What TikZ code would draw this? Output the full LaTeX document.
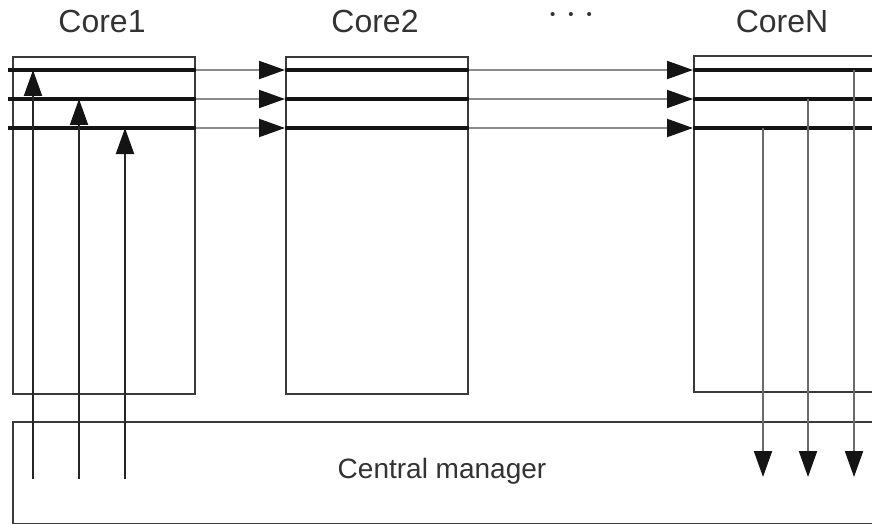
\documentclass[tikz,border=0pt]{standalone}
\usepackage{fontspec}
\setmainfont{Liberation Sans}
\usetikzlibrary{arrows.meta}
\definecolor{boxgray}{HTML}{3A3A3A}
\definecolor{linkgray}{HTML}{8C8C8C}
\definecolor{dropgray}{HTML}{6A6A6A}
\definecolor{txtgray}{HTML}{333333}
\begin{document}
\begin{tikzpicture}[x=1pt,y=-1pt,
  box/.style={draw=boxgray, line width=1.6pt, inner sep=0pt, anchor=north west},
  bus/.style={draw=black!92, line width=4pt},
  tip/.style={-{Triangle[length=26pt,width=18pt,color=black!92]}},
  link/.style={draw=linkgray, line width=2pt, tip},
  feed/.style={draw=black!85, line width=2pt, tip},
  drop/.style={draw=dropgray, line width=2pt, tip},
  title/.style={font=\fontsize{32}{38}\selectfont, text=txtgray, anchor=base},
  caption/.style={font=\fontsize{28}{34}\selectfont, text=txtgray, anchor=base}]
\useasboundingbox (0,0) rectangle (872,524);
\clip (0,0) rectangle (872,524);
\fill[white] (0,0) rectangle (872,524);

% core and manager boxes
\node[box, minimum width=182pt, minimum height=337pt] (c1) at (12,56) {};
\node[box, minimum width=182pt, minimum height=337pt] (c2) at (285,56) {};
\node[box, minimum width=220pt, minimum height=336pt] (cN) at (693,55) {};
\node[box, minimum width=900pt, minimum height=102pt] (cm) at (12,421) {};

% titles
\node[title] (t1) at (102,33) {Core1};
\node[title] (t2) at (375,33) {Core2};
\node[title] (tN) at (782,33) {CoreN};
\node[font=\fontsize{15}{15}\selectfont, text=txtgray, inner sep=0pt, anchor=base]
  (dots) at (571,20) {•\hspace{13pt}•\hspace{13pt}•};
\node[caption] (tm) at (442,478) {Central manager};

% bus rows
\coordinate (r1) at (8,70);
\coordinate (r2) at (8,99);
\coordinate (r3) at (8,128);
\foreach \r in {r1,r2,r3}{
  \draw[bus] (\r) -- (\r -| c1.east);
  \draw[bus] (\r -| c2.west) -- (\r -| c2.east);
  \draw[bus] (\r -| cN.west) -- (\r -| cN.east);
  \draw[link] (\r -| c1.east) -- (\r -| c2.west);
  \draw[link] (\r -| c2.east) -- (\r -| cN.west);
}

% feeds from the manager into Core1
\coordinate (u1) at (33,479);
\coordinate (u2) at (79,479);
\coordinate (u3) at (125,479);
\draw[feed] (u1) -- (u1 |- r1);
\draw[feed] (u2) -- (u2 |- r2);
\draw[feed] (u3) -- (u3 |- r3);

% results from CoreN back to the manager
\coordinate (d1) at (854,477);
\coordinate (d2) at (808,477);
\coordinate (d3) at (763,477);
\draw[drop] (d1 |- r1) -- (d1);
\draw[drop] (d2 |- r2) -- (d2);
\draw[drop] (d3 |- r3) -- (d3);
\end{tikzpicture}
\end{document}
